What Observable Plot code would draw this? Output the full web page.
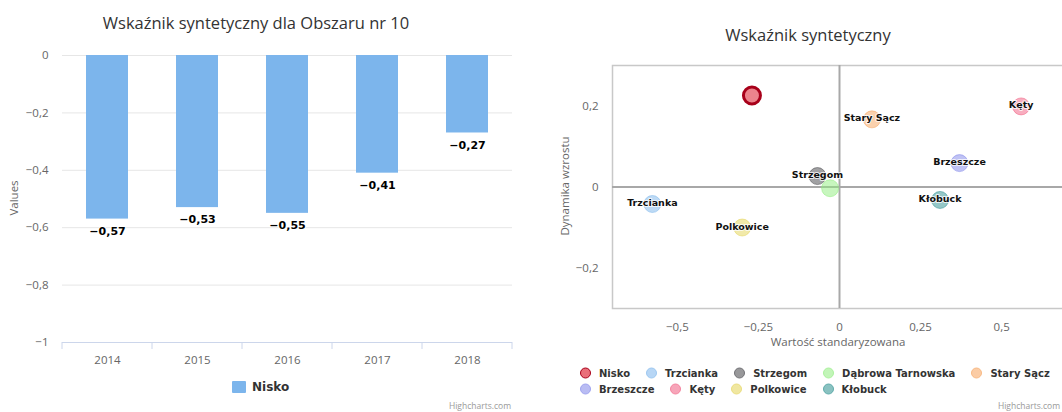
<!DOCTYPE html>
<html><head><meta charset="utf-8">
<script src="https://cdn.jsdelivr.net/npm/d3@7"></script>
<script src="https://cdn.jsdelivr.net/npm/@observablehq/plot@0.6"></script>
<style>
html,body{margin:0;padding:0;background:#fff;}
#root{position:relative;width:1062px;height:412px;overflow:hidden;font-family:"DejaVu Sans",Verdana,sans-serif;}
#root svg{position:absolute;top:0;}
.t{position:absolute;white-space:nowrap;line-height:1;}
.title{font-family:"Open Sans","DejaVu Sans",sans-serif;font-size:16.5px;color:#333;transform:translate(-50%,-50%);}
.axt{font-family:"Open Sans","DejaVu Sans",sans-serif;font-size:11.5px;color:#666;transform:translate(-50%,-50%);}
.rot{transform:translate(-50%,-50%) rotate(-90deg);}
.credit{font-size:8.5px;color:#999;font-family:"Open Sans",sans-serif;}
.leg{font-weight:bold;font-size:11px;color:#333;white-space:nowrap;}
.lrow{position:absolute;left:580px;display:flex;align-items:center;transform:translateY(-50%);width:max-content;white-space:nowrap;}
.li{display:flex;align-items:center;margin-right:16px;font-weight:bold;font-size:10px;color:#333;flex-shrink:0;white-space:nowrap;}
.sw{width:11px;height:11px;border-radius:50%;margin-right:8px;box-sizing:border-box;flex-shrink:0;}
</style></head><body><div id="root"></div>
<script>
// ---- Left chart data ----
const years = ["2014", "2015", "2016", "2017", "2018"];
const niskoValues = [-0.57, -0.53, -0.55, -0.41, -0.27];
const barTicks = [0, -0.2, -0.4, -0.6, -0.8, -1];
const barSeries = "Nisko";

// ---- Right chart data ----
const gminy = ["Nisko", "Trzcianka", "Strzegom", "Dąbrowa Tarnowska", "Stary Sącz", "Brzeszcze", "Kęty", "Polkowice", "Kłobuck"];
const standardized = [-0.27, -0.577, -0.068, -0.029, 0.10, 0.37, 0.56, -0.30, 0.31];
const growth = [0.226, -0.042, 0.027, -0.003, 0.167, 0.059, 0.199, -0.10, -0.032];
const palette = ["#e0303f", "#7cb5ec", "#434348", "#90ed7d", "#f7a35c", "#8085e9", "#f15c80", "#e4d354", "#2b908f"];
const labeledGminy = ["Trzcianka", "Strzegom", "Stary Sącz", "Brzeszcze", "Kęty", "Polkowice", "Kłobuck"];
const selected = "Nisko";
const xTicks = [-0.5, -0.25, 0, 0.25, 0.5];
const yTicks = [-0.2, 0, 0.2];

const fmt = v => (v < 0 ? "−" : "") + String(Math.abs(+(+v).toFixed(2))).replace(".", ",");

const root = document.getElementById("root");
const bars = years.map((y, i) => ({year: y, value: niskoValues[i]}));
const points = gminy.map((g, i) => ({name: g, x: standardized[i], y: growth[i]}));

const left = Plot.plot({
  width: 540, height: 412,
  marginTop: 55, marginBottom: 70, marginLeft: 62, marginRight: 28,
  style: {fontFamily: "'Open Sans', 'DejaVu Sans', sans-serif", fontSize: "11px", background: "transparent"},
  x: {domain: years, paddingInner: 0.53, paddingOuter: 0.265, axis: null, label: null},
  y: {domain: [-1, 0], axis: null, label: null},
  marks: [
    Plot.gridY(barTicks, {stroke: "#e6e6e6", strokeOpacity: 1}),
    Plot.barY(bars, {x: "year", y: "value", fill: "#7cb5ec"}),
    Plot.ruleY([-1], {stroke: "#ccd6eb"}),
    Plot.axisX({tickSize: 0, tickPadding: 13, fill: "#666", fontSize: 11.5, label: null}),
    Plot.axisY(barTicks, {tickSize: 0, tickPadding: 14, tickFormat: fmt, fill: "#666", fontSize: 11.5, label: null}),
    Plot.text(bars, {x: "year", y: "value", text: d => fmt(d.value), dy: 12, fontWeight: "bold", fontSize: 11, fontFamily: "DejaVu Sans", fill: "#000", stroke: "white", strokeWidth: 2})
  ]
});
left.style.left = "0px";
root.appendChild(left);
// category boundary ticks on the bottom axis
{
  const xs = left.scale("x"), ys = left.scale("y");
  const half = (xs.step - xs.bandwidth) / 2;
  const bounds = years.map(y => xs.apply(y) - half).concat([xs.apply(years[years.length - 1]) + xs.bandwidth + half]);
  const y0 = ys.apply(-1);
  d3.select(left).append("g").attr("stroke", "#ccd6eb")
    .selectAll("line").data(bounds).join("line")
    .attr("x1", d => d).attr("x2", d => d).attr("y1", y0).attr("y2", y0 + 7);
}

const right = Plot.plot({
  width: 536, height: 412,
  marginTop: 65, marginBottom: 104, marginLeft: 72, marginRight: 10,
  style: {fontFamily: "'Open Sans', 'DejaVu Sans', sans-serif", fontSize: "11px", background: "transparent"},
  x: {domain: [-0.7, 0.7], axis: null, label: null},
  y: {domain: [-0.3, 0.3], axis: null, label: null},
  color: {domain: gminy, range: palette},
  marks: [
    Plot.frame({stroke: "#c8c8c8", strokeWidth: 1.5}),
    Plot.ruleX([0], {stroke: "#a8a8a8", strokeWidth: 2}),
    Plot.ruleY([0], {stroke: "#a8a8a8", strokeWidth: 2}),
    Plot.axisX(xTicks, {tickSize: 0, tickPadding: 14, tickFormat: fmt, fill: "#666", fontSize: 11.5, label: null}),
    Plot.axisY(yTicks, {tickSize: 0, tickPadding: 14, tickFormat: fmt, fill: "#666", fontSize: 11.5, label: null}),
    Plot.dot(points.filter(d => d.name !== selected), {x: "x", y: "y", r: 8.5, fill: "name", fillOpacity: 0.5, stroke: "name", strokeOpacity: 0.5, strokeWidth: 1}),
    Plot.dot(points.filter(d => d.name === selected), {x: "x", y: "y", r: 8.5, fill: "name", fillOpacity: 0.6, stroke: "#a8001a", strokeWidth: 3}),
    Plot.text(points.filter(d => labeledGminy.includes(d.name)), {x: "x", y: "y", text: "name", dy: -1, fontWeight: "bold", fontSize: 9.5, fontFamily: "DejaVu Sans", fill: "#111", stroke: "white", strokeWidth: 2, strokeOpacity: 0.8})
  ]
});
right.style.left = "540px";
root.appendChild(right);

// ---- HTML texts ----
function addText(cls, txt, x, y, extra) {
  const d = document.createElement("div");
  d.className = "t " + cls;
  d.textContent = txt;
  d.style.left = x + "px";
  d.style.top = y + "px";
  if (extra) Object.assign(d.style, extra);
  root.appendChild(d);
  return d;
}
addText("title", "Wskaźnik syntetyczny dla Obszaru nr 10", 256, 23);
addText("axt rot", "Values", 14, 198);
addText("title", "Wskaźnik syntetyczny", 808, 35);
addText("axt rot", "Dynamika wzrostu", 565, 186);
addText("axt", "Wartość standaryzowana", 838, 342);
addText("credit", "Highcharts.com", 0, 402, {left: "auto", right: (1062 - 511) + "px"});
addText("credit", "Highcharts.com", 0, 402, {left: "auto", right: "2px"});

// left legend
{
  const row = document.createElement("div");
  row.className = "lrow";
  row.style.left = "232px";
  row.style.top = "387px";
  const sw = document.createElement("div");
  sw.style.cssText = "width:14px;height:12px;background:#7cb5ec;margin-right:6px;border-radius:1px;";
  const tx = document.createElement("div");
  tx.className = "leg"; tx.style.fontSize = "12px";
  tx.textContent = barSeries;
  row.appendChild(sw); row.appendChild(tx);
  root.appendChild(row);
}
// right legend (two rows)
const legendRows = [gminy.slice(0, 5), gminy.slice(5)];
const legendY = [373, 389];
legendRows.forEach((names, r) => {
  const row = document.createElement("div");
  row.className = "lrow";
  row.style.top = legendY[r] + "px";
  names.forEach(n => {
    const i = gminy.indexOf(n);
    const item = document.createElement("div");
    item.className = "li";
    const sw = document.createElement("div");
    sw.className = "sw";
    const c = d3.color(palette[i]);
    const fillC = d3.interpolateRgb(c, "#fff")(n === selected ? 0.3 : 0.45);
    sw.style.background = fillC;
    sw.style.border = "1.5px solid " + (n === selected ? "#a8001a" : d3.interpolateRgb(c, "#fff")(0.25));
    const tx = document.createElement("span");
    tx.textContent = n;
    item.appendChild(sw); item.appendChild(tx);
    row.appendChild(item);
  });
  root.appendChild(row);
});
</script></body></html>
